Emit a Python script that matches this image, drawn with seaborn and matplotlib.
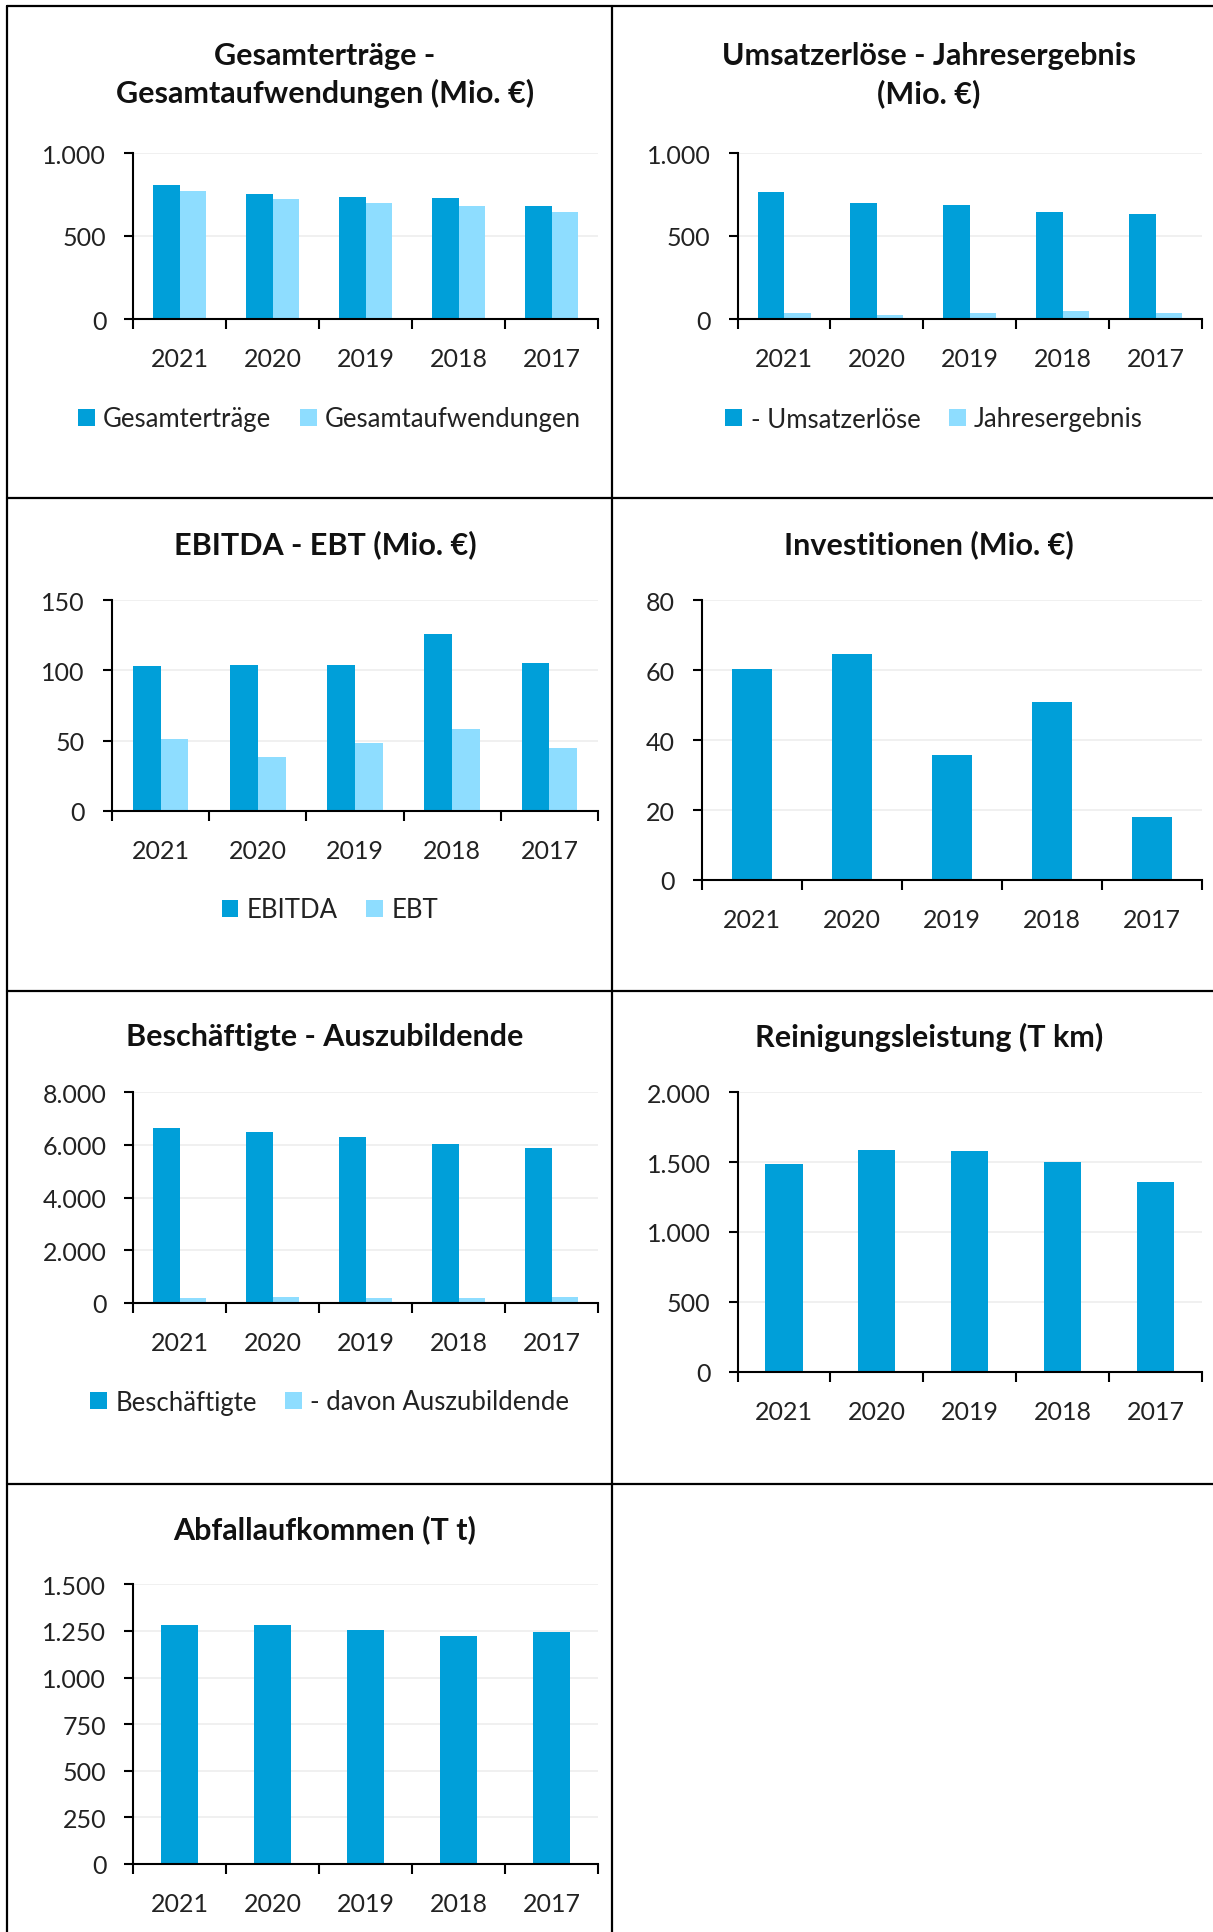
import numpy as np
import pandas as pd
import matplotlib
matplotlib.use("Agg")
import matplotlib.pyplot as plt
from matplotlib.lines import Line2D
from matplotlib.ticker import FuncFormatter
import seaborn as sns

# data
years = ["2021", "2020", "2019", "2018", "2017"]

ertraege = [807, 753, 737, 729, 681]
aufwendungen = [769, 723, 699, 681, 645]

umsatz = [767, 699, 689, 643, 633]
jahresergebnis = [36, 26, 36, 48, 34]

ebitda = [103, 104, 103.6, 126.2, 105.1]
ebt = [51.1, 38.3, 48.3, 58.0, 44.7]

investitionen = [60.3, 64.7, 35.7, 50.9, 17.9]

beschaeftigte = [6658, 6494, 6291, 6025, 5873]
azubis = [190, 215, 190, 190, 228]

reinigung = [1487, 1589, 1578, 1504, 1356]

abfall = [1282, 1280, 1255, 1223, 1243]

DARK = "#009FD9"
LIGHT = "#8EDDFF"
FS = 18

sns.set_theme(style="white")
plt.rcParams['font.family'] = ['Lato', 'DejaVu Sans']

W, H = 1213, 1933
fig = plt.figure(figsize=(W / 100, H / 100), dpi=100)


def fx(px):
    return px / W


def fy(py):
    return 1 - py / H


def make_ax(l, t, r, b):
    return fig.add_axes([fx(l), fy(b), fx(r) - fx(l), (b - t) / H])


def de_fmt(v, pos):
    return f"{int(round(v)):,}".replace(",", ".")


def style_ax(ax, ymax, step):
    ax.set_ylim(0, ymax)
    ax.set_yticks(np.arange(0, ymax + step / 2, step))
    ax.yaxis.set_major_formatter(FuncFormatter(de_fmt))
    ax.set_xlim(-0.5, 4.5)
    ax.set_xticks(np.arange(-0.5, 5, 1))
    ax.set_xticklabels([])
    ax.set_xticks(range(5), minor=True)
    ax.set_xticklabels(years, minor=True)
    ax.tick_params(axis="x", which="major", length=7.5, width=1.5, color="black", direction="out", bottom=True)
    ax.tick_params(axis="x", which="minor", length=0, pad=20.5, labelsize=FS, labelcolor="#222222")
    ax.tick_params(axis="y", length=6.5, width=1.5, color="black", direction="out", left=True, pad=13,
                   labelsize=FS, labelcolor="#222222")
    for s in ["top", "right"]:
        ax.spines[s].set_visible(False)
    for s in ["left", "bottom"]:
        ax.spines[s].set_color("black")
        ax.spines[s].set_linewidth(1.5)
    ax.yaxis.grid(True, color="#EEEEEE", linewidth=1.2)
    ax.set_axisbelow(True)
    ax.set_xlabel("")
    ax.set_ylabel("")


def pair_plot(ax, a, b, names, ymax, step, leg_x, leg_y):
    df = pd.DataFrame({
        "Jahr": years * 2,
        "Wert": a + b,
        "Reihe": [names[0]] * 5 + [names[1]] * 5,
    })
    sns.barplot(data=df, x="Jahr", y="Wert", hue="Reihe", palette=[DARK, LIGHT],
                width=0.57, gap=0, saturation=1, ax=ax, edgecolor="none")
    style_ax(ax, ymax, step)
    sns.move_legend(ax, "center", bbox_to_anchor=(fx(leg_x), fy(leg_y)),
                    bbox_transform=fig.transFigure, ncol=2, frameon=False, title=None,
                    fontsize=18.5, handlelength=0.66, handleheight=0.66,
                    handletextpad=0.32, columnspacing=1.1, labelcolor="#222222")


def single_plot(ax, vals, ymax, step):
    sns.barplot(x=years, y=vals, color=DARK, width=0.40, saturation=1, ax=ax, edgecolor="none")
    style_ax(ax, ymax, step)


def title(x, y, text):
    fig.text(fx(x), fy(y), text, ha="center", va="center", fontsize=22,
             fontweight="bold", color="#111111", linespacing=1.4)


# panel 1
ax1 = make_ax(133.4, 154, 598, 320)
pair_plot(ax1, ertraege, aufwendungen, ["Gesamterträge", "Gesamtaufwendungen"], 1000, 500, 329.5, 420)
title(325, 75, "Gesamterträge -\nGesamtaufwendungen (Mio. €)")

# panel 2
ax2 = make_ax(737.6, 154, 1202, 320)
pair_plot(ax2, umsatz, jahresergebnis, ["- Umsatzerlöse", "Jahresergebnis"], 1000, 500, 934, 420)
title(929, 75, "Umsatzerlöse - Jahresergebnis\n(Mio. €)")

# panel 3
ax3 = make_ax(112, 601.3, 598, 811.7)
pair_plot(ax3, ebitda, ebt, ["EBITDA", "EBT"], 150, 50, 329.7, 911)
title(325, 545, "EBITDA - EBT (Mio. €)")

# panel 4
ax4 = make_ax(701.6, 601.3, 1202, 881)
single_plot(ax4, investitionen, 80, 20)
title(929, 545, "Investitionen (Mio. €)")

# panel 5
ax5 = make_ax(133.4, 1093.3, 598, 1304)
pair_plot(ax5, beschaeftigte, azubis, ["Beschäftigte", "- davon Auszubildende"], 8000, 2000, 329.7, 1403)
title(325, 1037, "Beschäftigte - Auszubildende")

# panel 6
ax6 = make_ax(737.6, 1093.3, 1202, 1372.7)
single_plot(ax6, reinigung, 2000, 500)
title(929, 1037, "Reinigungsleistung (T km)")

# panel 7
ax7 = make_ax(133.4, 1585.3, 598, 1865)
single_plot(ax7, abfall, 1500, 250)
title(325, 1530, "Abfallaufkommen (T t)")

# panel borders
lw = 1.6
for yy in [7, 499, 992, 1485]:
    fig.add_artist(Line2D([fx(7), 1], [fy(yy), fy(yy)], color="black", linewidth=lw))
for xx in [7, 612]:
    fig.add_artist(Line2D([fx(xx), fx(xx)], [fy(7), 0], color="black", linewidth=lw))

fig.savefig("out.png", dpi=100)
